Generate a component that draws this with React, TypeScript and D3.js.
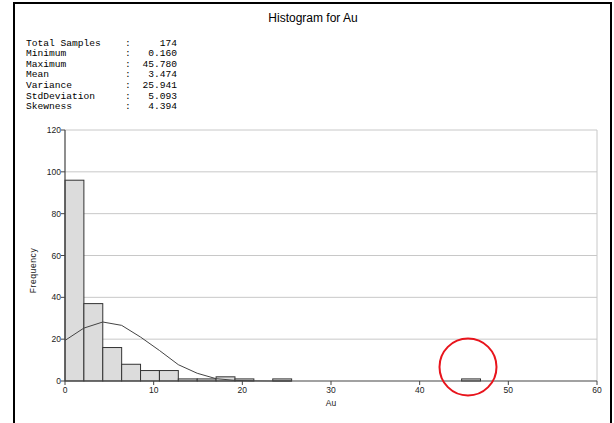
import React from 'react';
import * as d3 from 'd3';

// histogram counts per bin (bin width ~2.13, starting at 0)
const binWidth = 2.13;
const binCounts = [96, 37, 16, 8, 5, 5, 1, 1, 2, 1, 0, 1, 0, 0, 0, 0, 0, 0, 0, 0, 0, 1];

// fitted curve, read at bin edges
const curveValues = [19.4, 25.3, 28.2, 26.6, 21, 14.6, 7.8, 3.7, 1.1, 0.3, 0.05, 0, 0];

const statLabels = ['Total Samples', 'Minimum', 'Maximum', 'Mean', 'Variance', 'StdDeviation', 'Skewness'];
const statValues = ['174', '0.160', '45.780', '3.474', '25.941', '5.093', '4.394'];

const xTicks = [0, 10, 20, 30, 40, 50, 60];
const yTicks = [0, 20, 40, 60, 80, 100, 120];

const W = 614;
const H = 423;
const margin = { left: 65, right: 17, top: 130, bottom: 42 };

const App = () => {
  const x = d3.scaleLinear().domain([0, 60]).range([margin.left, W - margin.right]);
  const y = d3.scaleLinear().domain([0, 120]).range([H - margin.bottom, margin.top]);

  const line = d3.line<number>()
    .x((_, i) => x(i * binWidth))
    .y(d => y(d));

  const mono = '"Liberation Mono", "Courier New", monospace';
  const sans = 'Arial, "Liberation Sans", sans-serif';

  return (
    <svg width={W} height={H} style={{ position: 'absolute', left: 0, top: 0, background: '#fff' }}>
      {/* outer frame */}
      <rect x={14} y={3} width={597} height={440} fill="none" stroke="#000" strokeWidth={2} />

      <text x={313} y={22} textAnchor="middle" fontFamily={sans} fontSize={12} fill="#000">
        Histogram for Au
      </text>

      {/* summary stats */}
      <g fontFamily={mono} fontSize={9.6} fill="#000">
        {statLabels.map((s, i) => (
          <g key={s}>
            <text x={26} y={45.5 + i * 10.6}>{s}</text>
            <text x={125} y={45.5 + i * 10.6}>:</text>
            <text x={177} y={45.5 + i * 10.6} textAnchor="end">{statValues[i]}</text>
          </g>
        ))}
      </g>

      {/* grid */}
      {yTicks.filter(t => t > 0).map(t => (
        <line key={t} x1={x(0)} x2={x(60)} y1={y(t)} y2={y(t)} stroke="#c8c8c8" strokeWidth={1} />
      ))}
      <line x1={x(60)} x2={x(60)} y1={y(0)} y2={y(120)} stroke="#c8c8c8" strokeWidth={1} />

      {/* bars */}
      {binCounts.map((c, i) =>
        c > 0 ? (
          <rect
            key={i}
            x={x(i * binWidth)}
            y={y(c)}
            width={x((i + 1) * binWidth) - x(i * binWidth)}
            height={y(0) - y(c)}
            fill="#dcdcdc"
            stroke="#333"
            strokeWidth={1}
          />
        ) : null
      )}

      {/* curve */}
      <path d={line(curveValues) || ''} fill="none" stroke="#444" strokeWidth={1} />

      {/* axes */}
      <line x1={x(0)} x2={x(60)} y1={y(0)} y2={y(0)} stroke="#444" strokeWidth={1.2} />
      <line x1={x(0)} x2={x(0)} y1={y(0)} y2={y(120)} stroke="#444" strokeWidth={1.2} />
      <g fontFamily={sans} fontSize={8.5} fill="#222">
        {yTicks.map(t => (
          <g key={t}>
            <line x1={x(0) - 4} x2={x(0)} y1={y(t)} y2={y(t)} stroke="#444" />
            <text x={x(0) - 4} y={y(t) + 3} textAnchor="end">{t}</text>
          </g>
        ))}
        {xTicks.map(t => (
          <g key={t}>
            <line x1={x(t)} x2={x(t)} y1={y(0)} y2={y(0) + 4} stroke="#444" />
            <text x={x(t)} y={y(0) + 12} textAnchor="middle">{t}</text>
          </g>
        ))}
        <text x={331} y={406} textAnchor="middle">Au</text>
        <text transform={`translate(36,${(y(0) + y(120)) / 2 + 15}) rotate(-90)`} textAnchor="middle" letterSpacing={0.6}>
          Frequency
        </text>
      </g>

      {/* highlight */}
      <circle cx={468} cy={367} r={28.5} fill="none" stroke="#e8141c" strokeWidth={2} />
    </svg>
  );
};

export default App;
